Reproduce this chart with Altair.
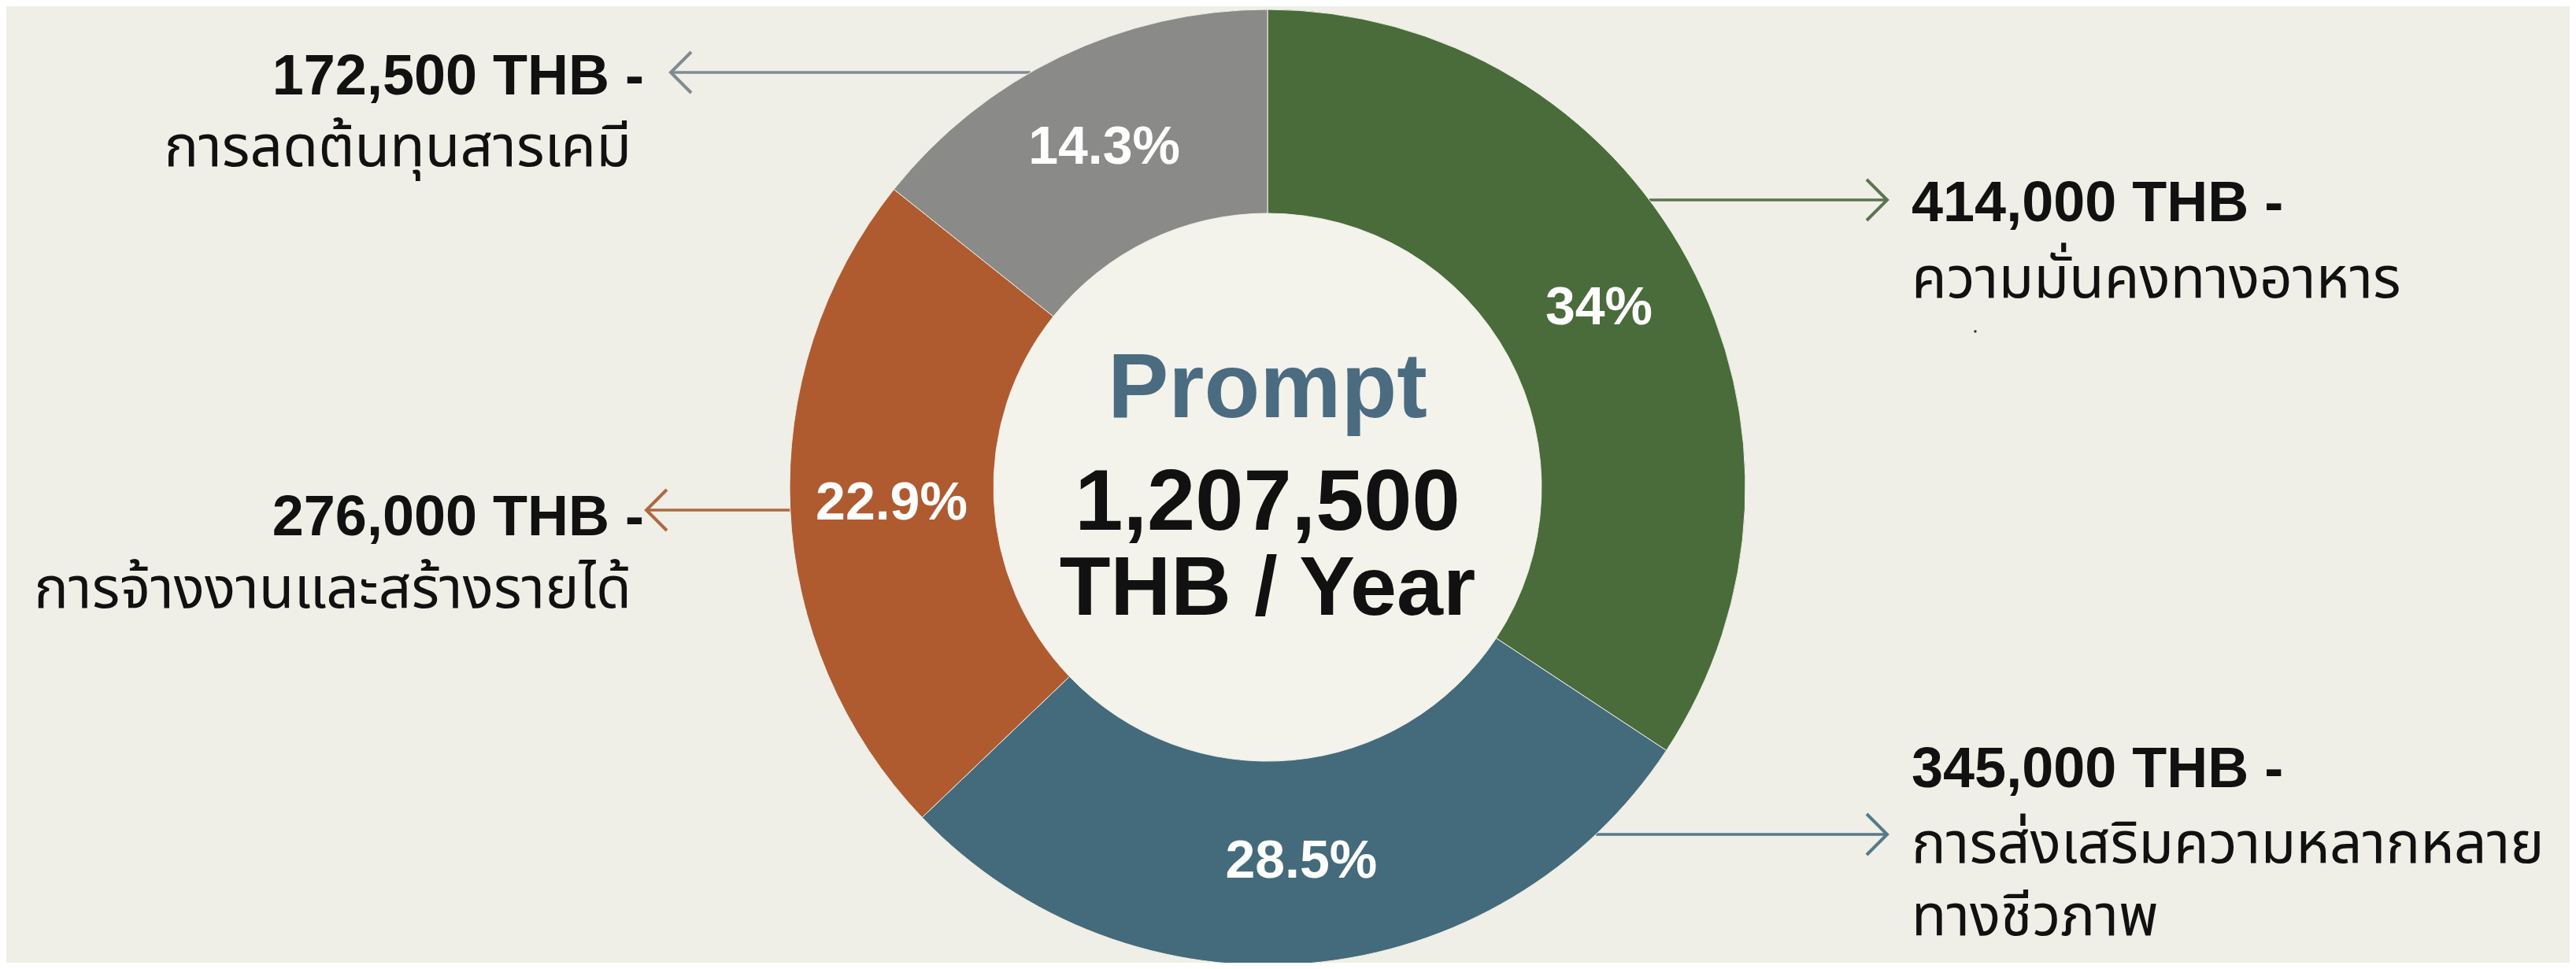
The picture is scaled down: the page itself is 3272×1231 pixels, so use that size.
import altair as alt
import pandas as pd

# ---------------- data ----------------
categories = [
    "ความมั่นคงทางอาหาร",
    "การส่งเสริมความหลากหลายทางชีวภาพ",
    "การจ้างงานและสร้างรายได้",
    "การลดต้นทุนสารเคมี",
]
values = [414000, 345000, 276000, 172500]
pct_labels = ["34%", "28.5%", "22.9%", "14.3%"]
amount_labels = ["414,000 THB -", "345,000 THB -", "276,000 THB -", "172,500 THB -"]
thai_lines = [
    ["ความมั่นคงทางอาหาร"],
    ["การส่งเสริมความหลากหลาย", "ทางชีวภาพ"],
    ["การจ้างงานและสร้างรายได้"],
    ["การลดต้นทุนสารเคมี"],
]
center_lines = ["Prompt", "1,207,500", "THB / Year"]

# ---------------- styles / layout ----------------
seg_colors = ["#4a6b3a", "#436b7c", "#b05a30", "#8a8a88"]
arrow_colors = ["#5b7550", "#557a88", "#b0683f", "#7f8a92"]
bg = "#efefe7"
inner_bg = "#f3f3ec"

W, H = 3256, 1215
OX, OY = 8, 8                       # page offset of plot origin
CX, CY = 1610, 619                  # donut centre (page px)
R_OUT, R_IN = 607, 348
R_LBL = 478

# label anchor positions per category (page px)
side = ["right", "right", "left", "left"]
amount_xy = [(2428, 281), (2428, 1000), (818, 680), (818, 120)]
thai_xy = [(2428, [378]), (2428, [1096, 1188]), (802, [772]), (802, [211])]
arrow_y = [254, 1060, 648, 92]
arrow_tip_x = [2397, 2397, 821, 852]
center_y = [530, 673, 781]
center_size = [116, 110, 106]
center_color = ["#4b6b80", "#111111", "#111111"]

xs = alt.Scale(domain=[OX, OX + W], nice=False, zero=False)
ys = alt.Scale(domain=[OY, OY + H], nice=False, zero=False, reverse=True)

# ---------------- tables ----------------
seg = pd.DataFrame({
    "category": categories,
    "value": values,
    "pct": pct_labels,
    "order": list(range(len(categories))),
})

amt_rows, thai_rows, arrow_rows = [], [], []
for i in range(len(categories)):
    ax, ay = amount_xy[i]
    amt_rows.append({"x": ax, "y": ay, "text": amount_labels[i], "side": side[i]})
    tx, tys = thai_xy[i]
    for line, ty in zip(thai_lines[i], tys):
        thai_rows.append({"x": tx, "y": ty, "text": line, "side": side[i]})
    y = arrow_y[i]
    dx = (R_OUT ** 2 - (CY - y) ** 2) ** 0.5
    start = CX + dx if side[i] == "right" else CX - dx
    arrow_rows.append({"x": start, "x2": arrow_tip_x[i], "y": y,
                       "color": arrow_colors[i], "side": side[i]})
amt = pd.DataFrame(amt_rows)
thai = pd.DataFrame(thai_rows)
arrows = pd.DataFrame(arrow_rows)
center = pd.DataFrame({"text": center_lines, "y": center_y,
                       "size": center_size, "color": center_color})
dot = pd.DataFrame({"x": [2509], "y": [421]})

cx_val = alt.value(CX - OX)
cy_val = alt.value(CY - OY)

inner = alt.Chart(pd.DataFrame({"a": [0]})).mark_arc(
    innerRadius=0, outerRadius=R_IN, theta=0, theta2=6.2832, color=inner_bg
).encode(x=cx_val, y=cy_val)

color_scale = alt.Scale(domain=categories, range=seg_colors)

donut = alt.Chart(seg).mark_arc(
    innerRadius=R_IN, outerRadius=R_OUT, stroke=bg, strokeWidth=1
).encode(
    theta=alt.Theta("value:Q", stack=True),
    order=alt.Order("order:Q"),
    color=alt.Color("category:N", scale=color_scale, legend=None),
    x=cx_val, y=cy_val,
)

pct = alt.Chart(seg).mark_text(
    radius=R_LBL, font="Liberation Sans", fontWeight="bold", fontSize=68,
    color="white", baseline="middle", align="center"
).encode(
    theta=alt.Theta("value:Q", stack=True),
    order=alt.Order("order:Q"),
    text="pct:N",
    x=cx_val, y=cy_val,
)

rules = alt.Chart(arrows).mark_rule(strokeWidth=3.5).encode(
    x=alt.X("x:Q", scale=xs, axis=None),
    x2="x2:Q",
    y=alt.Y("y:Q", scale=ys, axis=None),
    color=alt.Color("color:N", scale=None),
)

heads_r = alt.Chart(arrows).transform_filter(alt.datum.side == "right").mark_point(
    shape="M-1,-1L0,0L-1,1", size=2700, filled=False, strokeWidth=4, opacity=1
).encode(
    x=alt.X("x2:Q", scale=xs, axis=None),
    y=alt.Y("y:Q", scale=ys, axis=None),
    color=alt.Color("color:N", scale=None),
)
heads_l = alt.Chart(arrows).transform_filter(alt.datum.side == "left").mark_point(
    shape="M1,-1L0,0L1,1", size=2700, filled=False, strokeWidth=4, opacity=1
).encode(
    x=alt.X("x2:Q", scale=xs, axis=None),
    y=alt.Y("y:Q", scale=ys, axis=None),
    color=alt.Color("color:N", scale=None),
)

def text_layer(df, s, bold, size):
    return alt.Chart(df).transform_filter(alt.datum.side == s).mark_text(
        align="left" if s == "right" else "right",
        baseline="alphabetic",
        font="Liberation Sans, Noto Sans Thai, Noto Sans, sans-serif",
        fontWeight="bold" if bold else "normal",
        fontSize=size, color="#111111",
    ).encode(
        x=alt.X("x:Q", scale=xs, axis=None),
        y=alt.Y("y:Q", scale=ys, axis=None),
        text="text:N",
    )

center_txt = alt.Chart(center).mark_text(
    font="Liberation Sans", fontWeight="bold", align="center", baseline="alphabetic"
).encode(
    x=alt.value(CX - OX),
    y=alt.Y("y:Q", scale=ys, axis=None),
    text="text:N",
    size=alt.Size("size:Q", scale=None),
    color=alt.Color("color:N", scale=None),
)

dot_layer = alt.Chart(dot).mark_point(filled=True, size=12, color="#333333", opacity=1).encode(
    x=alt.X("x:Q", scale=xs, axis=None),
    y=alt.Y("y:Q", scale=ys, axis=None),
)

chart = alt.layer(
    inner, rules, donut, pct, heads_r, heads_l,
    text_layer(amt, "right", True, 72), text_layer(amt, "left", True, 72),
    text_layer(thai, "right", False, 73), text_layer(thai, "left", False, 73),
    center_txt, dot_layer,
).properties(
    width=W, height=H, background=bg, padding=0,
    autosize=alt.AutoSizeParams(type="none"),
).configure_view(stroke=None)

chart.save("out.html", embed_options={"renderer": "svg", "actions": False})
